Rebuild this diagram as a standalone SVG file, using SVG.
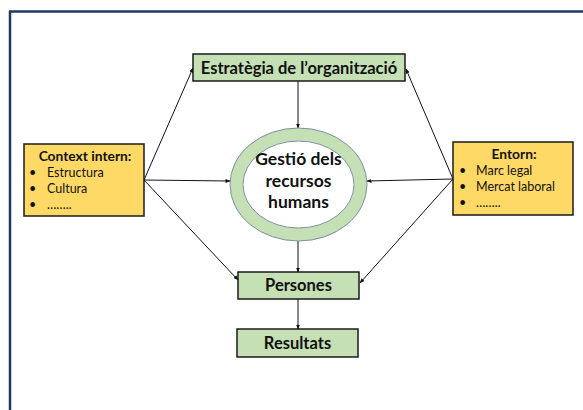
<svg xmlns="http://www.w3.org/2000/svg" width="583" height="410" viewBox="0 0 583 410">
<defs>
<style>
.box{fill:#c5e0b4;stroke:#1a1a1a;stroke-width:1.5}
.ybox{fill:#ffd966;stroke:#1a1a1a;stroke-width:1.5}
.t{font-family:Lato,"Liberation Sans",sans-serif;fill:#111}
.b{font-weight:bold}
.c{stroke:#111;stroke-width:1;fill:none;marker-end:url(#ah)}
</style>
<marker id="ah" viewBox="0 0 10 10" refX="9" refY="5" markerWidth="5" markerHeight="5" orient="auto" markerUnits="userSpaceOnUse">
<path d="M0,1 L10,5 L0,9 z" fill="#111"/>
</marker>
</defs>
<rect x="0" y="0" width="583" height="410" fill="#fff"/>
<g id="frame">
<line x1="9" y1="11.5" x2="583" y2="11.5" stroke="#203864" stroke-width="2.5"/>
<line x1="10" y1="11" x2="10" y2="410" stroke="#203864" stroke-width="2.5"/>
</g>
<g id="connectors">
<line class="c" x1="298" y1="81" x2="298" y2="128"/>
<line class="c" x1="144" y1="180" x2="193" y2="68"/>
<line class="c" x1="144" y1="180" x2="230" y2="181"/>
<line class="c" x1="144" y1="180" x2="238" y2="280"/>
<line class="c" x1="453" y1="179" x2="406" y2="69"/>
<line class="c" x1="453" y1="179" x2="367" y2="181"/>
<line class="c" x1="453" y1="179" x2="360" y2="283"/>
<line class="c" x1="298" y1="241" x2="298" y2="272"/>
<line class="c" x1="298" y1="299" x2="298" y2="329"/>
</g>
<g id="estrategia">
<rect class="box" x="193" y="54" width="212" height="27"/>
<text class="t b" x="299" y="73.5" font-size="16.5" text-anchor="middle">Estratègia de l’organització</text>
</g>
<g id="gestio">
<ellipse cx="298.5" cy="184.5" rx="62" ry="50" fill="#fff" stroke="#c5e0b4" stroke-width="13"/>
<ellipse cx="298.5" cy="184.5" rx="68.5" ry="56.5" fill="none" stroke="#7f8fa6" stroke-width="1"/>
<ellipse cx="298.5" cy="184.5" rx="55.5" ry="43.5" fill="none" stroke="#7f8fa6" stroke-width="1"/>
<text class="t b" font-size="17.5" text-anchor="middle"><tspan x="298.5" y="165">Gestió dels</tspan><tspan x="298.5" y="187">recursos</tspan><tspan x="298.5" y="208">humans</tspan></text>
</g>
<g id="context">
<rect class="ybox" x="24" y="144" width="120" height="72"/>
<text class="t b" x="85" y="161" font-size="13.8" text-anchor="middle">Context intern:</text>
<text class="t" font-size="12.5"><tspan x="29" y="177">•</tspan><tspan x="47" y="177">Estructura</tspan><tspan x="29" y="193">•</tspan><tspan x="47" y="193">Cultura</tspan><tspan x="29" y="209">•</tspan><tspan x="47" y="209">……..</tspan></text>
</g>
<g id="entorn">
<rect class="ybox" x="453" y="142" width="120" height="73"/>
<text class="t b" x="514" y="159" font-size="13.8" text-anchor="middle">Entorn:</text>
<text class="t" font-size="12.5"><tspan x="459" y="175">•</tspan><tspan x="476" y="175">Marc legal</tspan><tspan x="459" y="191">•</tspan><tspan x="476" y="191">Mercat laboral</tspan><tspan x="459" y="207">•</tspan><tspan x="476" y="207">……..</tspan></text>
</g>
<g id="persones">
<rect class="box" x="238" y="272" width="121" height="27"/>
<text class="t b" x="298.5" y="291" font-size="16.5" text-anchor="middle">Persones</text>
</g>
<g id="resultats">
<rect class="box" x="237" y="329" width="121" height="28"/>
<text class="t b" x="297.5" y="348.5" font-size="16.5" text-anchor="middle">Resultats</text>
</g>
</svg>
